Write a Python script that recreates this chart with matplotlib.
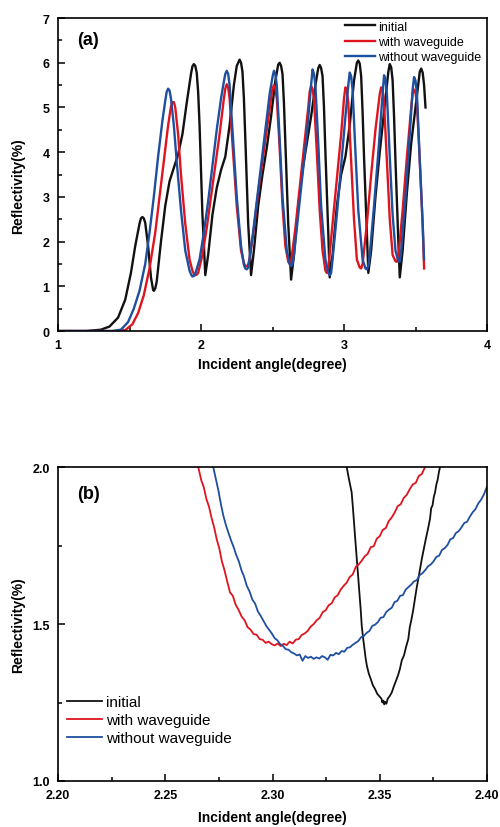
import matplotlib
matplotlib.use('Agg')
import matplotlib.pyplot as plt
from matplotlib.ticker import MultipleLocator

plt.rcParams['font.family'] = ['Liberation Sans', 'DejaVu Sans']

labels = ['initial', 'with waveguide', 'without waveguide']
colors = ['#111111', '#e0141e', '#1f4f9f']

# ---- panel (a): full scan ----
a_init_x = [1.00, 1.20, 1.30, 1.36, 1.42, 1.47, 1.51, 1.54, 1.57, 1.58, 1.59, 1.60, 1.61, 1.63, 1.65,
            1.665, 1.67, 1.68, 1.69, 1.72, 1.75, 1.78, 1.81, 1.84, 1.87, 1.90, 1.93, 1.94, 1.95, 1.96,
            1.97, 1.98, 1.99, 2.01, 2.03, 2.05, 2.08, 2.11, 2.14, 2.17, 2.20, 2.23, 2.25, 2.27, 2.28,
            2.29, 2.30, 2.31, 2.33, 2.35, 2.37, 2.40, 2.43, 2.46, 2.49, 2.52, 2.54, 2.55, 2.56, 2.57,
            2.58, 2.59, 2.61, 2.63, 2.65, 2.68, 2.71, 2.74, 2.77, 2.80, 2.82, 2.83, 2.84, 2.85, 2.86,
            2.87, 2.89, 2.90, 2.92, 2.95, 2.98, 3.01, 3.04, 3.07, 3.09, 3.10, 3.11, 3.12, 3.13, 3.14,
            3.16, 3.17, 3.19, 3.22, 3.25, 3.28, 3.31, 3.32, 3.33, 3.34, 3.35, 3.36, 3.38, 3.39, 3.41,
            3.44, 3.47, 3.50, 3.53, 3.54, 3.55, 3.56, 3.57]
a_init_y = [0.00, 0.00, 0.03, 0.10, 0.30, 0.70, 1.30, 1.90, 2.40, 2.52, 2.55, 2.52, 2.42, 1.90, 1.20,
            0.92, 0.90, 0.95, 1.10, 2.00, 2.80, 3.35, 3.65, 3.95, 4.40, 5.10, 5.75, 5.92, 5.97, 5.93,
            5.78, 5.35, 4.60, 2.60, 1.25, 1.70, 2.60, 3.20, 3.60, 3.90, 4.60, 5.50, 5.93, 6.07, 6.00,
            5.80, 5.20, 4.30, 2.40, 1.25, 1.80, 2.80, 3.50, 4.10, 4.80, 5.60, 5.96, 6.00, 5.93, 5.75,
            5.10, 4.20, 2.40, 1.15, 1.70, 2.80, 3.60, 4.20, 4.80, 5.50, 5.88, 5.95, 5.88, 5.70, 5.00,
            4.00, 2.20, 1.20, 1.70, 2.80, 3.50, 3.90, 4.60, 5.60, 6.00, 6.05, 5.98, 5.70, 4.90, 3.90,
            2.20, 1.30, 1.80, 3.00, 4.00, 4.90, 5.80, 5.97, 5.90, 5.60, 4.80, 3.80, 2.00, 1.20, 1.80,
            3.10, 4.20, 5.00, 5.80, 5.87, 5.78, 5.50, 5.00]

a_with_x = [1.00, 1.40, 1.47, 1.52, 1.56, 1.60, 1.64, 1.68, 1.71, 1.74, 1.77, 1.79, 1.80, 1.81, 1.82,
            1.84, 1.86, 1.89, 1.92, 1.94, 1.95, 1.96, 1.97, 1.98, 2.01, 2.04, 2.07, 2.10, 2.13, 2.16,
            2.17, 2.18, 2.19, 2.20, 2.22, 2.25, 2.28, 2.30, 2.31, 2.32, 2.33, 2.34, 2.37, 2.40, 2.43,
            2.46, 2.49, 2.50, 2.51, 2.52, 2.53, 2.55, 2.57, 2.59, 2.61, 2.62, 2.63, 2.66, 2.69, 2.72,
            2.75, 2.76, 2.77, 2.78, 2.79, 2.81, 2.83, 2.85, 2.87, 2.88, 2.89, 2.92, 2.95, 2.98, 3.00,
            3.01, 3.02, 3.03, 3.05, 3.07, 3.09, 3.11, 3.12, 3.13, 3.16, 3.19, 3.22, 3.25, 3.26, 3.27,
            3.28, 3.30, 3.32, 3.34, 3.36, 3.37, 3.38, 3.41, 3.44, 3.47, 3.48, 3.49, 3.50, 3.51, 3.53,
            3.55, 3.56]
a_with_y = [0.00, 0.00, 0.02, 0.15, 0.40, 0.80, 1.40, 2.20, 3.00, 3.80, 4.60, 5.02, 5.12, 5.12, 5.00,
            4.40, 3.50, 2.40, 1.60, 1.35, 1.28, 1.25, 1.26, 1.30, 1.70, 2.30, 3.00, 3.70, 4.40, 5.20,
            5.42, 5.52, 5.45, 5.20, 4.20, 2.80, 1.80, 1.52, 1.46, 1.45, 1.48, 1.60, 2.30, 3.10, 3.80,
            4.50, 5.20, 5.42, 5.50, 5.42, 5.20, 4.10, 2.80, 1.90, 1.55, 1.50, 1.55, 2.30, 3.20, 4.10,
            5.00, 5.35, 5.48, 5.40, 5.20, 4.00, 2.70, 1.80, 1.35, 1.30, 1.40, 2.40, 3.40, 4.40, 5.20,
            5.45, 5.38, 5.10, 3.80, 2.50, 1.60, 1.42, 1.40, 1.50, 2.40, 3.50, 4.50, 5.30, 5.45, 5.38,
            5.10, 3.80, 2.50, 1.70, 1.56, 1.55, 1.65, 2.70, 3.90, 5.00, 5.32, 5.40, 5.32, 5.10, 3.80,
            2.40, 1.40]

a_without_x = [1.00, 1.38, 1.44, 1.49, 1.53, 1.57, 1.61, 1.64, 1.67, 1.70, 1.73, 1.75, 1.76, 1.77, 1.78,
               1.79, 1.81, 1.83, 1.86, 1.89, 1.92, 1.93, 1.94, 1.95, 1.96, 1.99, 2.02, 2.05, 2.08, 2.11,
               2.14, 2.16, 2.17, 2.18, 2.19, 2.20, 2.22, 2.25, 2.28, 2.30, 2.31, 2.32, 2.33, 2.36, 2.39,
               2.42, 2.45, 2.48, 2.50, 2.51, 2.52, 2.53, 2.55, 2.57, 2.60, 2.62, 2.63, 2.64, 2.65, 2.68,
               2.71, 2.74, 2.77, 2.78, 2.79, 2.80, 2.82, 2.84, 2.87, 2.89, 2.90, 2.91, 2.92, 2.95, 2.98,
               3.01, 3.03, 3.04, 3.05, 3.06, 3.08, 3.10, 3.13, 3.15, 3.16, 3.17, 3.18, 3.21, 3.24, 3.27,
               3.28, 3.29, 3.30, 3.32, 3.34, 3.36, 3.38, 3.39, 3.40, 3.43, 3.46, 3.48, 3.49, 3.50, 3.51,
               3.53, 3.55, 3.56]
a_without_y = [0.00, 0.00, 0.03, 0.20, 0.50, 0.90, 1.50, 2.20, 3.00, 3.90, 4.70, 5.15, 5.35, 5.42, 5.38,
               5.20, 4.60, 3.80, 2.70, 1.80, 1.35, 1.27, 1.22, 1.23, 1.28, 1.60, 2.20, 2.90, 3.70, 4.50,
               5.20, 5.58, 5.75, 5.82, 5.75, 5.50, 4.50, 3.00, 1.90, 1.48, 1.40, 1.38, 1.42, 2.10, 2.90,
               3.70, 4.50, 5.30, 5.68, 5.82, 5.75, 5.50, 4.30, 3.00, 1.80, 1.50, 1.45, 1.50, 1.70, 2.60,
               3.50, 4.40, 5.50, 5.85, 5.75, 5.50, 4.20, 2.80, 1.60, 1.30, 1.25, 1.30, 1.60, 2.60, 3.70,
               4.80, 5.50, 5.78, 5.70, 5.40, 4.00, 2.70, 1.60, 1.40, 1.38, 1.45, 1.70, 2.80, 4.00, 5.30,
               5.72, 5.62, 5.30, 3.90, 2.60, 1.80, 1.56, 1.55, 1.80, 3.00, 4.40, 5.40, 5.68, 5.60, 5.30,
               3.80, 2.40, 1.60]

# ---- panel (b): zoom near the minimum ----
b_init_x = [2.3346, 2.3357, 2.3369, 2.3375, 2.3381, 2.3387, 2.3393, 2.3399, 2.3405, 2.3411, 2.3416,
            2.3422, 2.3428, 2.3434, 2.3440, 2.3449, 2.3458, 2.3468, 2.3478, 2.3488, 2.3498, 2.3508,
            2.3512, 2.3517, 2.3521, 2.3525, 2.3531, 2.3537, 2.3546, 2.3556, 2.3565, 2.3575, 2.3585,
            2.3594, 2.3603, 2.3613, 2.3623, 2.3633, 2.3640, 2.3648, 2.3656, 2.3664, 2.3672, 2.3680,
            2.3688, 2.3696, 2.3705, 2.3715, 2.3724, 2.3734, 2.3740, 2.3746, 2.3752, 2.3758, 2.3764,
            2.3770, 2.3776, 2.3781]
b_init_y = [2.000, 1.960, 1.920, 1.870, 1.815, 1.760, 1.707, 1.655, 1.600, 1.548, 1.495,
            1.458, 1.425, 1.392, 1.367, 1.342, 1.325, 1.305, 1.293, 1.278, 1.270, 1.262,
            1.250, 1.256, 1.244, 1.252, 1.246, 1.262, 1.270, 1.282, 1.300, 1.318, 1.336,
            1.357, 1.385, 1.400, 1.428, 1.452, 1.490, 1.515, 1.545, 1.580, 1.615, 1.645,
            1.676, 1.707, 1.738, 1.772, 1.800, 1.834, 1.870, 1.878, 1.905, 1.920, 1.945,
            1.960, 1.985, 2.000]

b_with_x = [2.2654, 2.2668, 2.2680, 2.2692, 2.2704, 2.2716, 2.2728, 2.2740, 2.2752, 2.2764, 2.2776,
            2.2788, 2.2802, 2.2815, 2.2828, 2.2842, 2.2856, 2.2870, 2.2884, 2.2898, 2.2912, 2.2926,
            2.2940, 2.2954, 2.2968, 2.2982, 2.2996, 2.3010, 2.3024, 2.3038, 2.3052, 2.3066, 2.3080,
            2.3094, 2.3108, 2.3122, 2.3136, 2.3150, 2.3164, 2.3178, 2.3192, 2.3206, 2.3220, 2.3234,
            2.3248, 2.3262, 2.3276, 2.3290, 2.3304, 2.3318, 2.3332, 2.3346, 2.3360, 2.3374, 2.3388,
            2.3402, 2.3416, 2.3430, 2.3444, 2.3458, 2.3472, 2.3486, 2.3500, 2.3514, 2.3528, 2.3542,
            2.3556, 2.3570, 2.3584, 2.3598, 2.3612, 2.3626, 2.3640, 2.3654, 2.3668, 2.3682, 2.3696,
            2.3711]
b_with_y = [2.000, 1.958, 1.935, 1.898, 1.874, 1.838, 1.808, 1.770, 1.741, 1.700, 1.672,
            1.638, 1.601, 1.590, 1.562, 1.545, 1.524, 1.512, 1.490, 1.482, 1.468, 1.466,
            1.452, 1.450, 1.440, 1.444, 1.436, 1.432, 1.438, 1.430, 1.437, 1.433, 1.444,
            1.438, 1.450, 1.452, 1.465, 1.470, 1.478, 1.492, 1.500, 1.512, 1.520, 1.538,
            1.544, 1.560, 1.566, 1.585, 1.592, 1.610, 1.622, 1.632, 1.650, 1.658, 1.682,
            1.690, 1.702, 1.716, 1.724, 1.745, 1.748, 1.772, 1.780, 1.800, 1.806, 1.828,
            1.840, 1.856, 1.876, 1.882, 1.902, 1.912, 1.930, 1.945, 1.950, 1.972, 1.978,
            2.000]

b_without_x = [2.2724, 2.2736, 2.2748, 2.2760, 2.2771, 2.2783, 2.2795, 2.2807, 2.2819, 2.2831, 2.2843,
               2.2855, 2.2867, 2.2880, 2.2893, 2.2906, 2.2919, 2.2932, 2.2945, 2.2958, 2.2971, 2.2984,
               2.2997, 2.3010, 2.3023, 2.3036, 2.3049, 2.3062, 2.3075, 2.3088, 2.3101, 2.3114, 2.3127,
               2.3140, 2.3153, 2.3166, 2.3179, 2.3192, 2.3205, 2.3218, 2.3231, 2.3244, 2.3257, 2.3270,
               2.3283, 2.3296, 2.3309, 2.3322, 2.3335, 2.3348, 2.3361, 2.3374, 2.3387, 2.3400, 2.3413,
               2.3426, 2.3439, 2.3452, 2.3465, 2.3478, 2.3491, 2.3504, 2.3517, 2.3530, 2.3543, 2.3556,
               2.3569, 2.3582, 2.3595, 2.3608, 2.3621, 2.3634, 2.3647, 2.3660, 2.3673, 2.3686, 2.3699,
               2.3712, 2.3725, 2.3738, 2.3751, 2.3764, 2.3777, 2.3790, 2.3803, 2.3816, 2.3829, 2.3842,
               2.3855, 2.3868, 2.3881, 2.3894, 2.3907, 2.3920, 2.3933, 2.3946, 2.3959, 2.3972, 2.3985,
               2.4000]
b_without_y = [2.000, 1.962, 1.925, 1.880, 1.845, 1.815, 1.790, 1.766, 1.745, 1.720, 1.700,
               1.672, 1.652, 1.622, 1.604, 1.578, 1.565, 1.540, 1.526, 1.510, 1.494, 1.482,
               1.470, 1.455, 1.448, 1.436, 1.430, 1.420, 1.418, 1.410, 1.406, 1.400, 1.403,
               1.383, 1.398, 1.392, 1.396, 1.389, 1.394, 1.390, 1.398, 1.394, 1.386, 1.402,
               1.400, 1.408, 1.404, 1.414, 1.412, 1.424, 1.426, 1.434, 1.440, 1.446, 1.458,
               1.462, 1.472, 1.478, 1.494, 1.498, 1.506, 1.520, 1.522, 1.538, 1.546, 1.552,
               1.570, 1.574, 1.590, 1.592, 1.610, 1.618, 1.626, 1.636, 1.640, 1.656, 1.662,
               1.672, 1.684, 1.690, 1.700, 1.714, 1.718, 1.736, 1.742, 1.752, 1.770, 1.774,
               1.790, 1.796, 1.808, 1.822, 1.826, 1.842, 1.856, 1.866, 1.884, 1.896, 1.912,
               1.938]

fig = plt.figure(figsize=(5, 8.28), dpi=100)
ax1 = fig.add_axes([0.116, 0.599, 0.858, 0.378])
ax2 = fig.add_axes([0.116, 0.0556, 0.858, 0.379])

# panel (a)
for xs, ys, c, lab in zip([a_init_x, a_with_x, a_without_x], [a_init_y, a_with_y, a_without_y], colors, labels):
    ax1.plot(xs, ys, color=c, lw=1.7, label=lab)
ax1.set_xlim(1, 4)
ax1.set_ylim(0, 7)
ax1.xaxis.set_major_locator(MultipleLocator(1))
ax1.xaxis.set_minor_locator(MultipleLocator(0.5))
ax1.yaxis.set_major_locator(MultipleLocator(1))
ax1.yaxis.set_minor_locator(MultipleLocator(0.5))
ax1.legend(loc='upper right', bbox_to_anchor=(0.99, 0.995), frameon=False, fontsize=9,
           handlelength=2.4, handletextpad=0.3, labelspacing=0.25, borderpad=0.1, borderaxespad=0)
ax1.text(0.045, 0.93, '(a)', transform=ax1.transAxes, fontsize=13, fontweight='bold', va='center')

# panel (b)
for xs, ys, c, lab in zip([b_init_x, b_with_x, b_without_x], [b_init_y, b_with_y, b_without_y], colors, labels):
    ax2.plot(xs, ys, color=c, lw=1.3, label=lab)
ax2.set_xlim(2.20, 2.40)
ax2.set_ylim(1.0, 2.0)
ax2.xaxis.set_major_locator(MultipleLocator(0.05))
ax2.xaxis.set_minor_locator(MultipleLocator(0.025))
ax2.yaxis.set_major_locator(MultipleLocator(0.5))
ax2.yaxis.set_minor_locator(MultipleLocator(0.25))
ax2.xaxis.set_major_formatter(plt.FormatStrFormatter('%.2f'))
ax2.yaxis.set_major_formatter(plt.FormatStrFormatter('%.1f'))
ax2.legend(loc='lower left', bbox_to_anchor=(0.02, 0.115), frameon=False, fontsize=11,
           handlelength=2.3, handletextpad=0.3, labelspacing=0.25, borderpad=0, borderaxespad=0)
ax2.text(0.045, 0.915, '(b)', transform=ax2.transAxes, fontsize=13, fontweight='bold', va='center')

for ax in (ax1, ax2):
    ax.tick_params(which='both', direction='in', top=False, right=False, width=1.1)
    ax.tick_params(which='major', length=5, labelsize=9, pad=6)
    ax.tick_params(which='minor', length=3)
    for lbl in ax.get_xticklabels() + ax.get_yticklabels():
        lbl.set_fontweight('bold')
    for s in ax.spines.values():
        s.set_linewidth(1.2)
    ax.set_ylabel('Reflectivity(%)', fontsize=10, fontweight='bold')

ax1.set_xlabel('Incident angle(degree)', fontsize=10, fontweight='bold', labelpad=4)
ax2.set_xlabel('Incident angle(degree)', fontsize=10, fontweight='bold', labelpad=6)
ax1.yaxis.set_label_coords(-0.077, 0.466)
ax2.yaxis.set_label_coords(-0.077, 0.5)

plt.savefig('out.png', dpi=100)
